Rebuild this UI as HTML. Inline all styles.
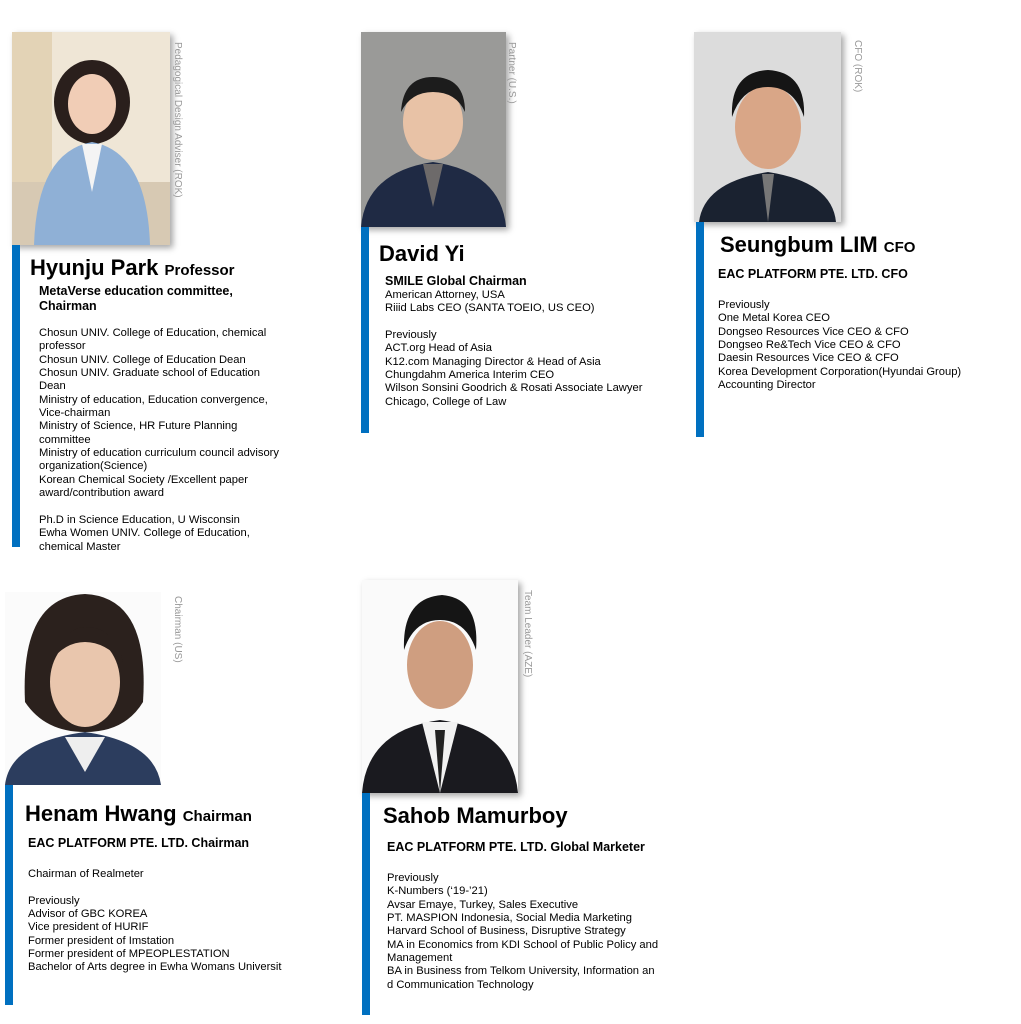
<!DOCTYPE html>
<html><head><meta charset="utf-8"><style>
body{margin:0;width:1021px;height:1024px;background:#fff;position:relative;overflow:hidden;font-family:"Liberation Sans",Arial,sans-serif;color:#000}
.bar{position:absolute;background:#0070c0;width:8px}
.ph{position:absolute;overflow:hidden;box-shadow:3px 3px 6px rgba(0,0,0,.35)}
.nm{position:absolute;font-weight:bold;font-size:22px;white-space:nowrap;line-height:24px}
.nm small{font-size:15px}
.sub{position:absolute;font-weight:bold;font-size:12.5px;line-height:15px;white-space:pre}
.bd{position:absolute;font-size:11.2px;line-height:13.35px;white-space:pre}
.vt{position:absolute;font-size:10px;color:#999;writing-mode:vertical-rl;white-space:nowrap}
</style></head><body>

<!-- Card 1 -->
<div class="ph" style="left:12px;top:32px;width:158px;height:213px">
<svg width="158" height="213"><rect width="158" height="213" fill="#efe6d6"/><rect x="0" y="0" width="40" height="213" fill="#e3d3b6"/><rect x="0" y="150" width="158" height="63" fill="#d7c9b3"/>
<ellipse cx="80" cy="70" rx="38" ry="42" fill="#2a1f1c"/><ellipse cx="80" cy="72" rx="24" ry="30" fill="#f1cdb6"/>
<path d="M22 213 Q25 120 80 110 Q135 120 138 213Z" fill="#8fb0d6"/><path d="M70 112 L80 160 L90 112Z" fill="#f4f4f4"/></svg></div>
<div class="vt" style="left:172px;top:42px">Pedagogical Design Adviser (ROK)</div>
<div class="bar" style="left:12px;top:245px;height:302px"></div>
<div class="nm" style="left:30px;top:256px">Hyunju Park <small>Professor</small></div>
<div class="sub" style="left:39px;top:284px">MetaVerse education committee,
Chairman</div>
<div class="bd" style="left:39px;top:327px">Chosun UNIV. College of Education, chemical
professor
Chosun UNIV. College of Education Dean
Chosun UNIV. Graduate school of Education
Dean
Ministry of education, Education convergence,
Vice-chairman
Ministry of Science, HR Future Planning
committee
Ministry of education curriculum council advisory
organization(Science)
Korean Chemical Society /Excellent paper
award/contribution award

Ph.D in Science Education, U Wisconsin
Ewha Women UNIV. College of Education,
chemical Master</div>

<!-- Card 2 -->
<div class="ph" style="left:361px;top:32px;width:145px;height:195px">
<svg width="145" height="195"><rect width="145" height="195" fill="#9a9a98"/>
<ellipse cx="72" cy="90" rx="30" ry="38" fill="#e8c2a6"/><path d="M40 80 Q42 45 72 45 Q104 45 104 80 Q95 60 72 60 Q50 60 40 80Z" fill="#1c1c1c"/>
<path d="M0 195 Q5 140 72 130 Q140 140 145 195Z" fill="#1f2a44"/><path d="M62 132 L72 175 L82 132Z" fill="#6d6a6a"/></svg></div>
<div class="vt" style="left:506px;top:42px">Partner (U.S.)</div>
<div class="bar" style="left:361px;top:227px;height:206px"></div>
<div class="nm" style="left:379px;top:242px">David Yi</div>
<div class="sub" style="left:385px;top:274px">SMILE Global Chairman</div>
<div class="bd" style="left:385px;top:289px">American Attorney, USA
Riiid Labs CEO (SANTA TOEIO, US CEO)

Previously
ACT.org Head of Asia
K12.com Managing Director &amp; Head of Asia
Chungdahm America Interim CEO
Wilson Sonsini Goodrich &amp; Rosati Associate Lawyer
Chicago, College of Law</div>

<!-- Card 3 -->
<div class="ph" style="left:694px;top:32px;width:147px;height:190px">
<svg width="147" height="190"><rect width="147" height="190" fill="#dcdcdc"/>
<ellipse cx="74" cy="95" rx="33" ry="42" fill="#d9a687"/><path d="M38 85 Q36 40 74 38 Q112 40 110 85 Q100 55 74 55 Q48 55 38 85Z" fill="#151515"/>
<path d="M5 190 Q10 150 74 140 Q138 150 142 190Z" fill="#1a2230"/><path d="M68 142 L74 190 L80 142Z" fill="#777"/></svg></div>
<div class="vt" style="left:852px;top:40px">CFO (ROK)</div>
<div class="bar" style="left:696px;top:222px;height:215px"></div>
<div class="nm" style="left:720px;top:233px">Seungbum LIM <small>CFO</small></div>
<div class="sub" style="left:718px;top:267px">EAC PLATFORM PTE. LTD. CFO</div>
<div class="bd" style="left:718px;top:299px">Previously
One Metal Korea CEO
Dongseo Resources Vice CEO &amp; CFO
Dongseo Re&amp;Tech Vice CEO &amp; CFO
Daesin Resources Vice CEO &amp; CFO
Korea Development Corporation(Hyundai Group)
Accounting Director</div>

<!-- Card 4 -->
<div class="ph" style="left:5px;top:592px;width:156px;height:193px;box-shadow:none">
<svg width="156" height="193"><rect width="156" height="193" fill="#fbfbfb"/>
<path d="M20 110 Q15 5 80 2 Q145 5 138 110 Q120 140 80 140 Q40 140 20 110Z" fill="#2b211d"/>
<ellipse cx="80" cy="90" rx="35" ry="45" fill="#e9c6ad"/><path d="M45 70 Q60 35 80 35 Q110 35 118 70 Q100 50 80 50 Q60 50 45 70Z" fill="#2b211d"/>
<path d="M0 193 Q5 150 80 140 Q150 150 156 193Z" fill="#2c3d5e"/><path d="M60 145 L80 180 L100 145Z" fill="#eee"/></svg></div>
<div class="vt" style="left:172px;top:596px">Chairman (US)</div>
<div class="bar" style="left:5px;top:785px;height:220px"></div>
<div class="nm" style="left:25px;top:802px">Henam Hwang <small>Chairman</small></div>
<div class="sub" style="left:28px;top:836px">EAC PLATFORM PTE. LTD. Chairman</div>
<div class="bd" style="left:28px;top:868px">Chairman of Realmeter

Previously
Advisor of GBC KOREA
Vice president of HURIF
Former president of Imstation
Former president of MPEOPLESTATION
Bachelor of Arts degree in Ewha Womans Universit</div>

<!-- Card 5 -->
<div class="ph" style="left:362px;top:580px;width:156px;height:213px">
<svg width="156" height="213"><rect width="156" height="213" fill="#fafafa"/>
<ellipse cx="78" cy="85" rx="33" ry="44" fill="#cf9e80"/><path d="M42 70 Q40 18 80 15 Q118 18 114 70 Q104 40 78 40 Q52 40 42 70Z" fill="#151515"/>
<path d="M0 213 Q5 150 78 140 Q150 150 156 213Z" fill="#1a1a1f"/><path d="M60 142 L78 213 L96 142Z" fill="#f2f2f2"/><path d="M73 150 L78 213 L83 150Z" fill="#222"/></svg></div>
<div class="vt" style="left:522px;top:590px">Team Leader (AZE)</div>
<div class="bar" style="left:362px;top:793px;height:222px"></div>
<div class="nm" style="left:383px;top:804px">Sahob Mamurboy</div>
<div class="sub" style="left:387px;top:840px">EAC PLATFORM PTE. LTD. Global Marketer</div>
<div class="bd" style="left:387px;top:872px">Previously
K-Numbers (‘19-’21)
Avsar Emaye, Turkey, Sales Executive
PT. MASPION Indonesia, Social Media Marketing
Harvard School of Business, Disruptive Strategy
MA in Economics from KDI School of Public Policy and
Management
BA in Business from Telkom University, Information an
d Communication Technology</div>

</body></html>
